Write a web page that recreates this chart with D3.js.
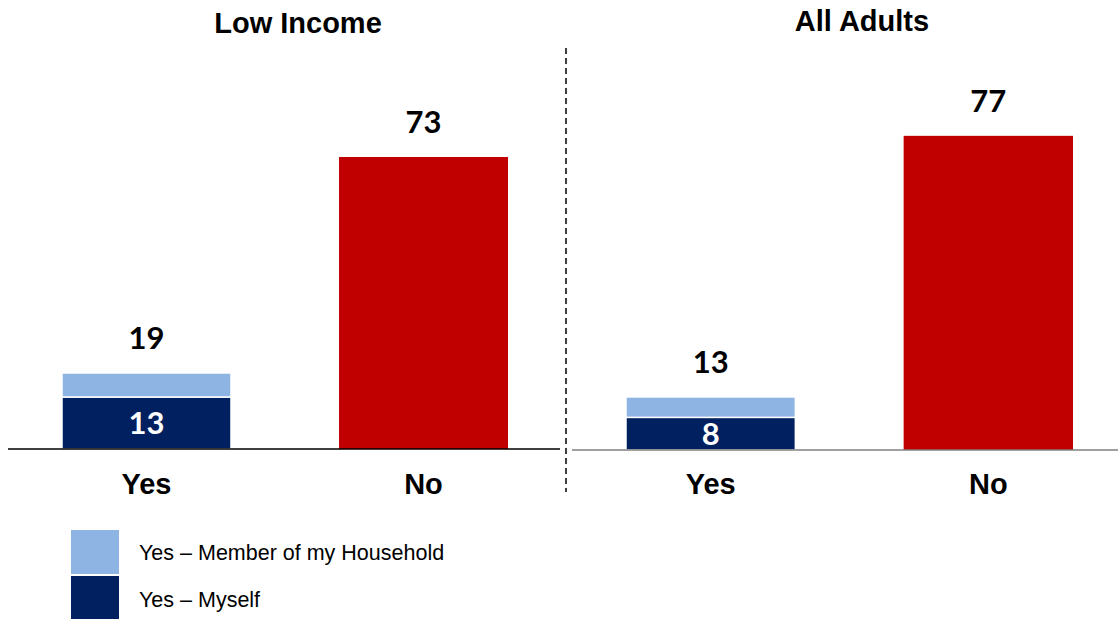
<!DOCTYPE html>
<html>
<head>
<meta charset="utf-8">
<script src="https://cdn.jsdelivr.net/npm/d3@7"></script>
<style>
  html, body { margin: 0; padding: 0; background: #fff; }
  svg { display: block; }
</style>
</head>
<body>
<svg id="chart" width="1118" height="619"></svg>
<script>
// Survey answers, percent of respondents
const panels = ["Low Income", "All Adults"];
const categories = ["Yes", "No"];
const myselfValues = [13, 8];          // "Yes – Myself"
const householdValues = [6, 5];        // "Yes – Member of my Household"
const yesTotals = [19, 13];
const noValues = [73, 77];
const legendLabels = ["Yes – Member of my Household", "Yes – Myself"];

const colors = { myself: "#002060", household: "#8EB4E3", no: "#C00000" };

const svg = d3.select("#chart");

// panel geometry
const layout = [
  { x0: 8,   x1: 560, base: 449, top: 49, titleX: 298, titleY: 33, axisColor: "#000" },
  { x0: 572, x1: 1118, base: 450, top: 42, titleX: 862, titleY: 31, axisColor: "#808080" }
];
const barBand = [
  { start: 62, end: 508 },
  { start: 626, end: 1073 }
];

panels.forEach((name, i) => {
  const L = layout[i];
  const g = svg.append("g");

  const x = d3.scaleBand()
    .domain(categories)
    .range([barBand[i].start, barBand[i].end])
    .paddingInner(0.39)
    .paddingOuter(0);

  const y = d3.scaleLinear().domain([0, 100]).range([L.base, L.top]);

  // title
  g.append("text")
    .attr("x", L.titleX).attr("y", L.titleY)
    .attr("text-anchor", "middle")
    .style("font-family", "'Liberation Sans', Arial, sans-serif")
    .style("font-weight", "bold").style("font-size", "29px")
    .text(name);

  // stacked Yes bar
  const yesStack = [
    { v0: 0, v1: myselfValues[i], color: colors.myself },
    { v0: myselfValues[i], v1: yesTotals[i], color: colors.household }
  ];
  g.selectAll("rect.yes").data(yesStack).join("rect")
    .attr("class", "yes")
    .attr("x", x("Yes")).attr("width", x.bandwidth())
    .attr("y", d => y(d.v1))
    .attr("height", d => y(d.v0) - y(d.v1))
    .attr("fill", d => d.color)
    .attr("stroke", "#fff").attr("stroke-width", 1.5);

  // No bar
  g.append("rect")
    .attr("x", x("No")).attr("width", x.bandwidth())
    .attr("y", y(noValues[i]))
    .attr("height", y(0) - y(noValues[i]))
    .attr("fill", colors.no);

  // baseline
  g.append("line")
    .attr("x1", L.x0).attr("x2", L.x1)
    .attr("y1", y(0)).attr("y2", y(0))
    .attr("stroke", L.axisColor).attr("stroke-width", 1.5);

  // value labels
  const valueFont = "Lato, 'Noto Sans', sans-serif";
  g.append("text")
    .attr("x", x("Yes") + x.bandwidth() / 2)
    .attr("y", y(yesTotals[i]) - 24)
    .attr("text-anchor", "middle")
    .style("font-family", valueFont).style("font-weight", "bold").style("font-size", "31px")
    .text(yesTotals[i]);
  g.append("text")
    .attr("x", x("No") + x.bandwidth() / 2)
    .attr("y", y(noValues[i]) - 24)
    .attr("text-anchor", "middle")
    .style("font-family", valueFont).style("font-weight", "bold").style("font-size", "31px")
    .text(noValues[i]);
  g.append("text")
    .attr("x", x("Yes") + x.bandwidth() / 2)
    .attr("y", (y(0) + y(myselfValues[i])) / 2)
    .attr("dy", "0.36em")
    .attr("text-anchor", "middle")
    .attr("fill", "#fff")
    .style("font-family", valueFont).style("font-weight", "bold").style("font-size", "31px")
    .text(myselfValues[i]);

  // category labels
  g.selectAll("text.cat").data(categories).join("text")
    .attr("class", "cat")
    .attr("x", d => x(d) + x.bandwidth() / 2)
    .attr("y", 494)
    .attr("text-anchor", "middle")
    .style("font-family", "'Liberation Sans', Arial, sans-serif")
    .style("font-weight", "bold").style("font-size", "29px")
    .text(d => d);
});

// dashed divider between panels
svg.append("line")
  .attr("x1", 566).attr("x2", 566)
  .attr("y1", 48).attr("y2", 492)
  .attr("stroke", "#000").attr("stroke-width", 1.5)
  .attr("stroke-dasharray", "6,4");

// legend
const legendColors = [colors.household, colors.myself];
const leg = svg.append("g");
leg.selectAll("rect").data(legendLabels).join("rect")
  .attr("x", 71).attr("y", (d, i) => 530 + i * 46)
  .attr("width", 48).attr("height", 44)
  .attr("fill", (d, i) => legendColors[i]);
leg.selectAll("text").data(legendLabels).join("text")
  .attr("x", 139).attr("y", (d, i) => 552 + i * 47)
  .attr("dy", "0.35em")
  .style("font-family", "'Liberation Sans', Arial, sans-serif")
  .style("font-size", "21.5px")
  .text(d => d);
</script>
</body>
</html>
